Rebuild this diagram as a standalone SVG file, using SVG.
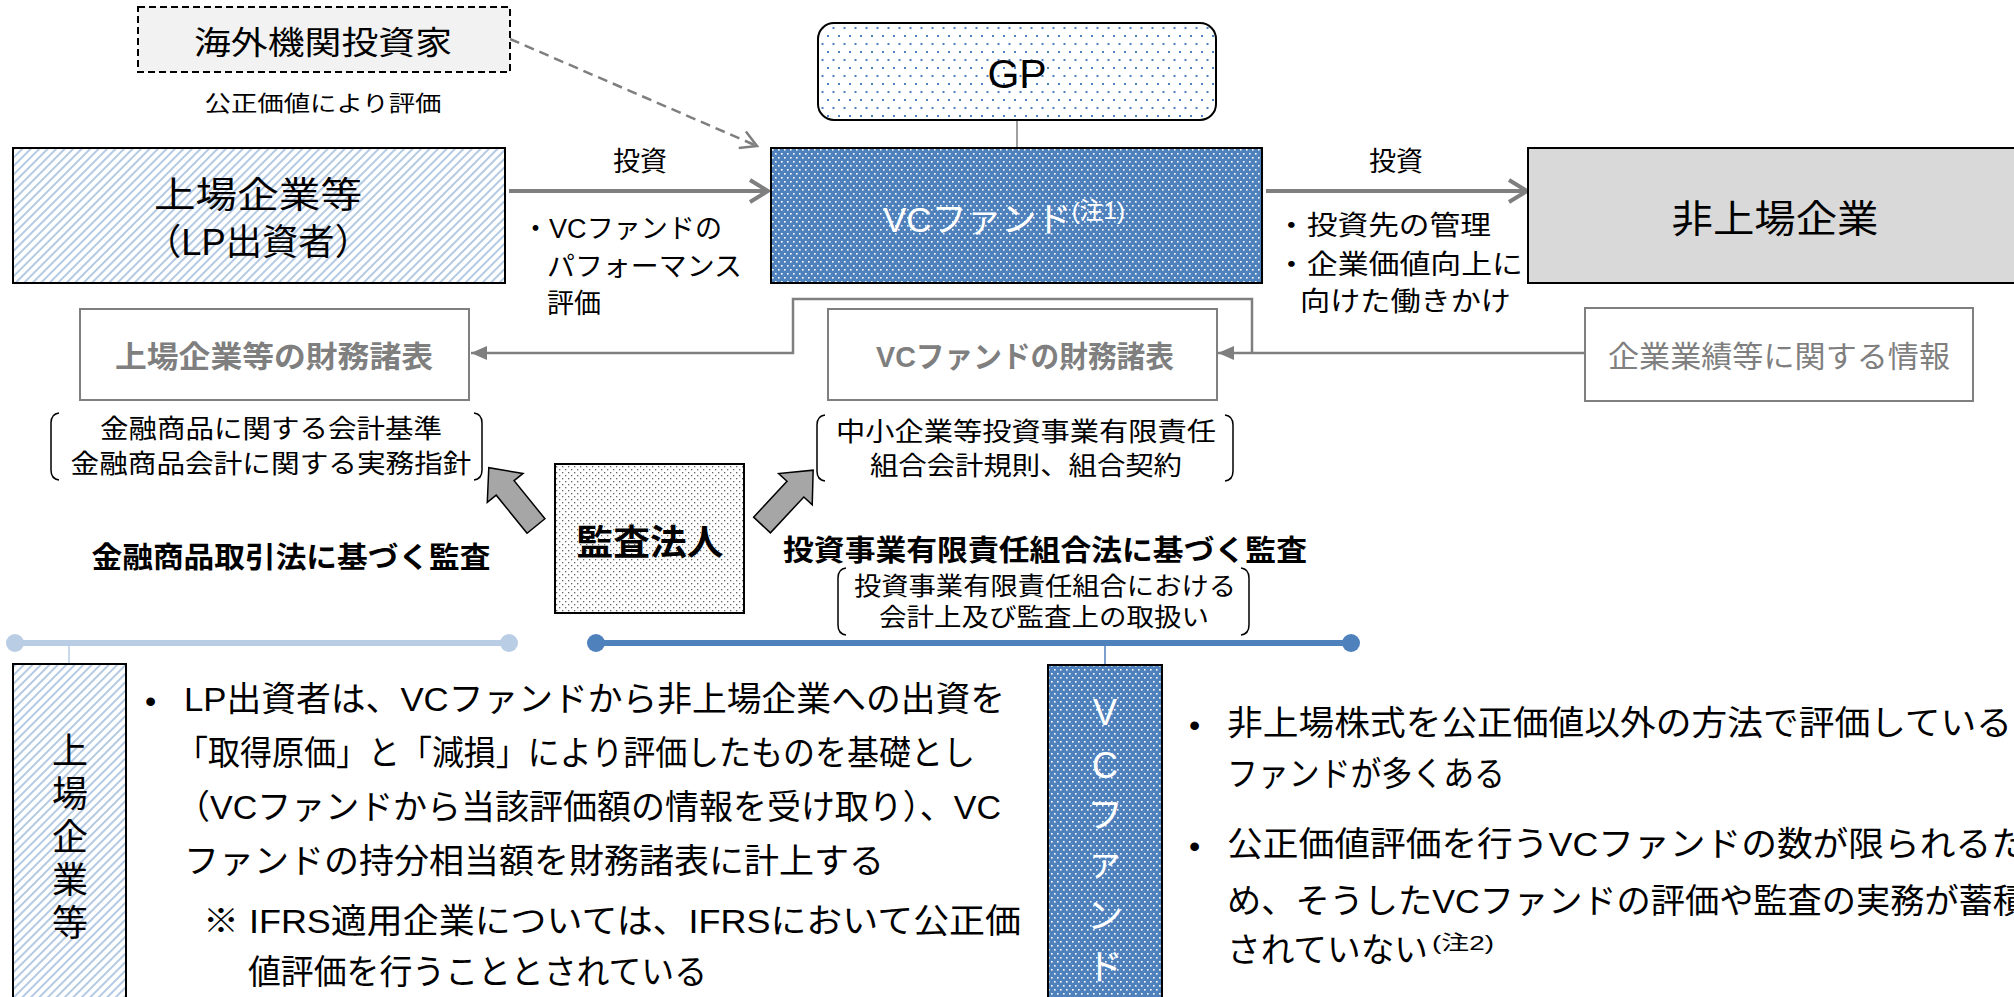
<svg xmlns="http://www.w3.org/2000/svg" width="2014" height="997" viewBox="0 0 2014 997">
<defs>
<style>
text{font-family:'Liberation Sans','Noto Sans CJK JP',sans-serif;fill:#000}
.g{fill:#7f7f7f}
.w{fill:#fff}
.b{font-weight:bold}
.ln{fill:none;stroke:#7f7f7f;stroke-width:2.5}
.inv{fill:none;stroke:#7f7f7f;stroke-width:4}
.br{fill:none;stroke:#000;stroke-width:1.5}
.blk{fill:#a6a6a6;stroke:#000;stroke-width:1.5}
</style>
<pattern id="hatch" width="6" height="6" patternUnits="userSpaceOnUse" patternTransform="rotate(45)">
<rect width="6" height="6" fill="#fff"/><line x1="1" y1="0" x2="1" y2="6" stroke="#95b3d7" stroke-width="1.4"/>
</pattern>
<pattern id="gpdots" width="11" height="16" patternUnits="userSpaceOnUse">
<rect width="11" height="16" fill="#fff"/><rect x="2" y="3" width="2" height="2" fill="#4f81bd"/><rect x="7.5" y="11" width="2" height="2" fill="#4f81bd"/>
</pattern>
<pattern id="vcdots" width="6" height="8" patternUnits="userSpaceOnUse">
<rect width="6" height="8" fill="#4f81bd"/><rect x="1" y="1" width="1.6" height="1.6" fill="#fff"/><rect x="4" y="5" width="1.6" height="1.6" fill="#fff"/>
</pattern>
<pattern id="audots" width="6" height="6" patternUnits="userSpaceOnUse">
<rect width="6" height="6" fill="#fff"/><rect x="1" y="1" width="1.3" height="1.3" fill="#666"/><rect x="4" y="4" width="1.3" height="1.3" fill="#666"/>
</pattern>
<marker id="chev" viewBox="0 0 22 26" refX="20" refY="13" markerWidth="22" markerHeight="26" markerUnits="userSpaceOnUse" orient="auto">
<path d="M2,2 L20,13 L2,24" fill="none" stroke="#7f7f7f" stroke-width="4"/>
</marker>
<marker id="chevd" viewBox="0 0 20 22" refX="18" refY="11" markerWidth="20" markerHeight="22" markerUnits="userSpaceOnUse" orient="auto">
<path d="M2,2 L18,11 L2,20" fill="none" stroke="#7f7f7f" stroke-width="2.5"/>
</marker>
<marker id="tri" viewBox="0 0 16 14" refX="16" refY="7" markerWidth="16" markerHeight="14" markerUnits="userSpaceOnUse" orient="auto">
<path d="M0,0 L16,7 L0,14 z" fill="#7f7f7f"/>
</marker>
</defs>

<g id="connectors">
<line x1="509" y1="191" x2="768" y2="191" class="inv" marker-end="url(#chev)"/>
<line x1="1266" y1="191" x2="1527" y2="191" class="inv" marker-end="url(#chev)"/>
<line x1="510" y1="39" x2="757" y2="146" fill="none" stroke="#7f7f7f" stroke-width="2.5" stroke-dasharray="10,6" marker-end="url(#chevd)"/>
<line x1="1017" y1="120" x2="1017" y2="148" stroke="#7f7f7f" stroke-width="1.5"/>
<path d="M1252,353 V299 H793 V353 H471" class="ln" marker-end="url(#tri)"/>
<path d="M1585,353 H1218" class="ln" marker-end="url(#tri)"/>
<polygon class="blk" points="0,-11.5 49,-11.5 49,-23 75,0 49,23 49,11.5 0,11.5" transform="translate(536,526) rotate(-129)"/>
<polygon class="blk" points="0,-11.5 49,-11.5 49,-23 75,0 49,23 49,11.5 0,11.5" transform="translate(762,525) rotate(-47)"/>
<line x1="15" y1="643" x2="509" y2="643" stroke="#b9cde5" stroke-width="6"/>
<circle cx="15" cy="643" r="9" fill="#b9cde5"/><circle cx="509" cy="643" r="9" fill="#b9cde5"/>
<line x1="69" y1="643" x2="69" y2="664" stroke="#b9cde5" stroke-width="1.5"/>
<line x1="596" y1="643" x2="1351" y2="643" stroke="#4f81bd" stroke-width="6"/>
<circle cx="596" cy="643" r="9" fill="#4f81bd"/><circle cx="1351" cy="643" r="9" fill="#4f81bd"/>
<line x1="1105" y1="643" x2="1105" y2="665" stroke="#4f81bd" stroke-width="1.5"/>
</g>

<g id="overseas">
<rect x="138" y="7" width="372" height="65" fill="#f2f2f2" stroke="#000" stroke-width="2" stroke-dasharray="7,4"/>
<text x="323" y="54" font-size="32" text-anchor="middle" textLength="258" lengthAdjust="spacingAndGlyphs">海外機関投資家</text>
<text x="323" y="111" font-size="22" text-anchor="middle" textLength="237" lengthAdjust="spacingAndGlyphs">公正価値により評価</text>
</g>

<g id="gp">
<rect x="818" y="23" width="398" height="97" rx="16" fill="url(#gpdots)" stroke="#000" stroke-width="2"/>
<text x="1017" y="88" font-size="41" text-anchor="middle">GP</text>
</g>

<g id="listed">
<rect x="13" y="148" width="492" height="135" fill="url(#hatch)" stroke="#000" stroke-width="2"/>
<text x="258" y="208" font-size="36" text-anchor="middle" textLength="208" lengthAdjust="spacingAndGlyphs">上場企業等</text>
<text x="258" y="255" font-size="36" text-anchor="middle" textLength="226" lengthAdjust="spacingAndGlyphs">（LP出資者）</text>
</g>

<g id="vcfund">
<rect x="771" y="148" width="491" height="135" fill="url(#vcdots)" stroke="#000" stroke-width="2"/>
<text x="883" y="232" font-size="35" class="w">VCファンド<tspan font-size="24" dy="-13">(注1)</tspan></text>
</g>

<g id="unlisted">
<rect x="1528" y="148" width="500" height="135" fill="#d9d9d9" stroke="#000" stroke-width="2"/>
<text x="1775" y="232" font-size="38" text-anchor="middle" textLength="207" lengthAdjust="spacingAndGlyphs">非上場企業</text>
</g>

<g id="labels-invest">
<text x="640" y="171" font-size="27" text-anchor="middle">投資</text>
<text x="1396" y="171" font-size="27" text-anchor="middle">投資</text>
<text x="522" y="238" font-size="27" textLength="200" lengthAdjust="spacingAndGlyphs">・VCファンドの</text>
<text x="547" y="276" font-size="27" textLength="195" lengthAdjust="spacingAndGlyphs">パフォーマンス</text>
<text x="547" y="313" font-size="27">評価</text>
<text x="1276" y="235" font-size="27" textLength="215" lengthAdjust="spacingAndGlyphs">・投資先の管理</text>
<text x="1276" y="274" font-size="27" textLength="247" lengthAdjust="spacingAndGlyphs">・企業価値向上に</text>
<text x="1300" y="311" font-size="27" textLength="211" lengthAdjust="spacingAndGlyphs">向けた働きかけ</text>
</g>

<g id="fs-listed">
<rect x="80" y="309" width="389" height="91" fill="#fff" stroke="#7f7f7f" stroke-width="2"/>
<text x="274" y="367" font-size="30" class="g b" text-anchor="middle" textLength="318" lengthAdjust="spacingAndGlyphs">上場企業等の財務諸表</text>
</g>

<g id="fs-vc">
<rect x="828" y="309" width="389" height="91" fill="#fff" stroke="#7f7f7f" stroke-width="2"/>
<text x="1025" y="367" font-size="30" class="g b" text-anchor="middle" textLength="298" lengthAdjust="spacingAndGlyphs">VCファンドの財務諸表</text>
</g>

<g id="perf-info">
<rect x="1585" y="308" width="388" height="93" fill="#fff" stroke="#7f7f7f" stroke-width="2"/>
<text x="1779" y="367" font-size="30" class="g" text-anchor="middle" textLength="342" lengthAdjust="spacingAndGlyphs">企業業績等に関する情報</text>
</g>

<g id="std-listed">
<path class="br" d="M59,413 Q51,414 51,423 V470 Q51,479 59,480"/>
<path class="br" d="M474,413 Q482,414 482,423 V470 Q482,479 474,480"/>
<text x="271" y="438" font-size="26" text-anchor="middle" textLength="342" lengthAdjust="spacingAndGlyphs">金融商品に関する会計基準</text>
<text x="271" y="473" font-size="26" text-anchor="middle" textLength="401" lengthAdjust="spacingAndGlyphs">金融商品会計に関する実務指針</text>
</g>

<g id="std-vc">
<path class="br" d="M825,415 Q817,416 817,425 V471 Q817,480 825,481"/>
<path class="br" d="M1225,415 Q1233,416 1233,425 V471 Q1233,480 1225,481"/>
<text x="1026" y="441" font-size="26" text-anchor="middle" textLength="380" lengthAdjust="spacingAndGlyphs">中小企業等投資事業有限責任</text>
<text x="1026" y="475" font-size="26" text-anchor="middle" textLength="312" lengthAdjust="spacingAndGlyphs">組合会計規則、組合契約</text>
</g>

<g id="auditor">
<rect x="555" y="464" width="189" height="149" fill="url(#audots)" stroke="#000" stroke-width="2"/>
<text x="650" y="555" font-size="35" class="b" text-anchor="middle" textLength="147" lengthAdjust="spacingAndGlyphs">監査法人</text>
</g>

<g id="audit-labels">
<text x="291" y="568" font-size="29" class="b" text-anchor="middle" textLength="399" lengthAdjust="spacingAndGlyphs">金融商品取引法に基づく監査</text>
<text x="1045" y="561" font-size="29" class="b" text-anchor="middle" textLength="524" lengthAdjust="spacingAndGlyphs">投資事業有限責任組合法に基づく監査</text>
<path class="br" d="M846,568 Q838,569 838,578 V625 Q838,634 846,635"/>
<path class="br" d="M1241,568 Q1249,569 1249,578 V625 Q1249,634 1241,635"/>
<text x="1045" y="595" font-size="25" text-anchor="middle" textLength="382" lengthAdjust="spacingAndGlyphs">投資事業有限責任組合における</text>
<text x="1044" y="626" font-size="25" text-anchor="middle" textLength="330" lengthAdjust="spacingAndGlyphs">会計上及び監査上の取扱い</text>
</g>

<g id="side-listed">
<rect x="13" y="664" width="113" height="345" fill="url(#hatch)" stroke="#000" stroke-width="2"/>
<text x="70" y="764" font-size="36" text-anchor="middle">上</text>
<text x="70" y="807" font-size="36" text-anchor="middle">場</text>
<text x="70" y="850" font-size="36" text-anchor="middle">企</text>
<text x="70" y="893" font-size="36" text-anchor="middle">業</text>
<text x="70" y="936" font-size="36" text-anchor="middle">等</text>
</g>

<g id="text-listed">
<text x="145" y="712" font-size="32">•</text>
<text x="184" y="711" font-size="34" textLength="821" lengthAdjust="spacingAndGlyphs">LP出資者は、VCファンドから非上場企業への出資を</text>
<text x="176" y="765" font-size="34" textLength="799" lengthAdjust="spacingAndGlyphs">「取得原価」と「減損」により評価したものを基礎とし</text>
<text x="176" y="819" font-size="34" textLength="825" lengthAdjust="spacingAndGlyphs">（VCファンドから当該評価額の情報を受け取り）、VC</text>
<text x="184" y="873" font-size="34" textLength="700" lengthAdjust="spacingAndGlyphs">ファンドの持分相当額を財務諸表に計上する</text>
<text x="203" y="933" font-size="34" textLength="818" lengthAdjust="spacingAndGlyphs">※ IFRS適用企業については、IFRSにおいて公正価</text>
<text x="248" y="984" font-size="34" textLength="459" lengthAdjust="spacingAndGlyphs">値評価を行うこととされている</text>
</g>

<g id="side-vc">
<rect x="1048" y="665" width="114" height="345" fill="url(#vcdots)" stroke="#000" stroke-width="2"/>
<text x="1105" y="725" font-size="36" class="w" text-anchor="middle">V</text>
<text x="1105" y="778" font-size="36" class="w" text-anchor="middle">C</text>
<text x="1105" y="828" font-size="36" class="w" text-anchor="middle">フ</text>
<text x="1105" y="875" font-size="36" class="w" text-anchor="middle">ァ</text>
<text x="1105" y="929" font-size="36" class="w" text-anchor="middle">ン</text>
<text x="1105" y="980" font-size="36" class="w" text-anchor="middle">ド</text>
</g>

<g id="text-vc">
<text x="1189" y="736" font-size="32">•</text>
<text x="1227" y="735" font-size="34" textLength="785" lengthAdjust="spacingAndGlyphs">非上場株式を公正価値以外の方法で評価している</text>
<text x="1227" y="786" font-size="34" textLength="278" lengthAdjust="spacingAndGlyphs">ファンドが多くある</text>
<text x="1189" y="857" font-size="32">•</text>
<text x="1227" y="856" font-size="34" textLength="800" lengthAdjust="spacingAndGlyphs">公正価値評価を行うVCファンドの数が限られるた</text>
<text x="1227" y="913" font-size="34" textLength="800" lengthAdjust="spacingAndGlyphs">め、そうしたVCファンドの評価や監査の実務が蓄積</text>
<text x="1227" y="962" font-size="34" textLength="201" lengthAdjust="spacingAndGlyphs">されていない</text>
<text x="1432" y="950" font-size="20" textLength="62" lengthAdjust="spacingAndGlyphs">(注2)</text>
</g>
</svg>
